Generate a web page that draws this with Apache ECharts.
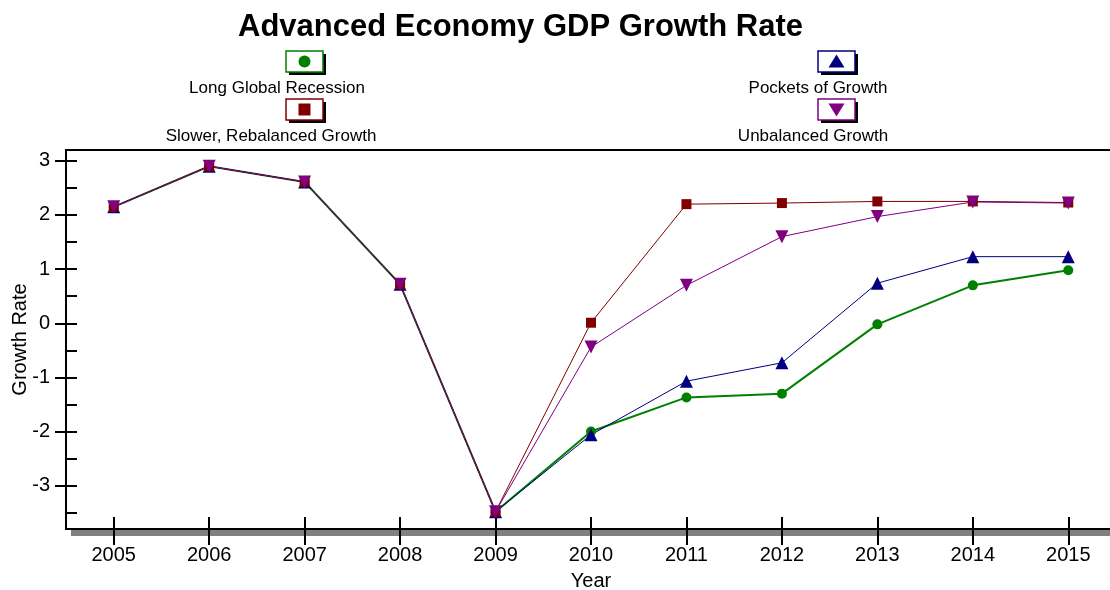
<!DOCTYPE html>
<html>
<head>
<meta charset="utf-8">
<title>Advanced Economy GDP Growth Rate</title>
<script src="https://cdn.jsdelivr.net/npm/echarts@6/dist/echarts.min.js"></script>
<style>
  html, body { margin: 0; padding: 0; background: #fff; }
  #chart { width: 1110px; height: 590px; }
</style>
</head>
<body>
<div id="chart"></div>
<script>
// data
var years = ["2005", "2006", "2007", "2008", "2009", "2010", "2011", "2012", "2013", "2014", "2015"];
var yTicks = [-3, -2, -1, 0, 1, 2, 3];
var yMinorTicks = [-3.5, -2.5, -1.5, -0.5, 0.5, 1.5, 2.5];
var seriesNames = ["Long Global Recession", "Slower, Rebalanced Growth", "Pockets of Growth", "Unbalanced Growth"];
var longGlobalRecession = [2.15, 2.9, 2.61, 0.72, -3.48, -2.0, -1.37, -1.30, -0.02, 0.70, 0.98];
var slowerRebalanced = [2.15, 2.9, 2.61, 0.72, -3.48, 0.01, 2.20, 2.22, 2.25, 2.25, 2.23];
var pocketsOfGrowth = [2.15, 2.9, 2.61, 0.72, -3.48, -2.06, -1.07, -0.73, 0.74, 1.23, 1.23];
var unbalancedGrowth = [2.15, 2.9, 2.61, 0.72, -3.48, -0.44, 0.70, 1.60, 1.97, 2.24, 2.22];

var FONT = "Liberation Sans, Arial, sans-serif";
var colors = ["#008000", "#800000", "#000080", "#800080"];
var markers = ["circle", "rect", "up", "down"];

var chart = echarts.init(document.getElementById("chart"));

// legend drawn by hand: box with marker, name underneath
var legendSlots = [
  { boxX: 286, boxY: 51, textX: 277, textY: 88 },
  { boxX: 286, boxY: 99, textX: 271, textY: 136 },
  { boxX: 818, boxY: 51, textX: 818, textY: 88 },
  { boxX: 818, boxY: 99, textX: 813, textY: 136 }
];

function legendMarker(kind, cx, cy, color) {
  if (kind === "circle") {
    return { type: "circle", shape: { cx: cx, cy: cy, r: 6 }, style: { fill: color } };
  }
  if (kind === "rect") {
    return { type: "rect", shape: { x: cx - 6, y: cy - 6, width: 12, height: 12 }, style: { fill: color } };
  }
  if (kind === "up") {
    return { type: "polygon", shape: { points: [[cx, cy - 7], [cx + 8, cy + 6], [cx - 8, cy + 6]] }, style: { fill: color } };
  }
  return { type: "polygon", shape: { points: [[cx - 8, cy - 6], [cx + 8, cy - 6], [cx, cy + 7]] }, style: { fill: color } };
}

var graphics = [];
legendSlots.forEach(function (s, i) {
  graphics.push({ type: "rect", shape: { x: s.boxX + 3, y: s.boxY + 3, width: 37, height: 21 }, style: { fill: "#000" } });
  graphics.push({ type: "rect", shape: { x: s.boxX, y: s.boxY, width: 37, height: 21 }, style: { fill: "#fff", stroke: colors[i], lineWidth: 1.5 } });
  graphics.push(legendMarker(markers[i], s.boxX + 18.5, s.boxY + 10.5, colors[i]));
  graphics.push({
    type: "text", x: s.textX, y: s.textY,
    style: { text: seriesNames[i], fill: "#000", font: "17px " + FONT, textAlign: "center", textVerticalAlign: "middle" }
  });
});
// grey shadow under the x axis
graphics.push({ type: "rect", z: -1, shape: { x: 71, y: 530, width: 1050, height: 6 }, style: { fill: "#808080" } });

function lineSeries(name, data, color, symbol, size, width, rotate) {
  return {
    name: name,
    type: "line",
    data: data,
    color: color,
    symbol: symbol,
    symbolSize: size,
    symbolRotate: rotate || 0,
    showSymbol: true,
    lineStyle: { width: width, color: color },
    itemStyle: { color: color },
    animation: false
  };
}

var option = {
  backgroundColor: "#fff",
  textStyle: { fontFamily: FONT },
  title: {
    text: "Advanced Economy GDP Growth Rate",
    left: 238,
    top: 12,
    padding: 0,
    textStyle: { fontSize: 31, fontWeight: "bold", color: "#000", fontFamily: FONT }
  },
  graphic: graphics,
  grid: {
    left: 66,
    top: 150,
    width: 1050,
    height: 379,
    containLabel: false,
    outerBoundsMode: "none",
    show: true,
    borderColor: "#000",
    borderWidth: 2,
    backgroundColor: "transparent"
  },
  xAxis: [
    {
      type: "category",
      data: years,
      boundaryGap: true,
      position: "bottom",
      name: "Year",
      nameLocation: "middle",
      nameGap: 42,
      nameMoveOverlap: false,
      nameTextStyle: { fontSize: 20, color: "#000" },
      axisLine: { show: true, onZero: false, lineStyle: { color: "#000", width: 2 } },
      axisTick: { show: true, alignWithLabel: true, inside: false, length: 16, lineStyle: { color: "#000", width: 2 } },
      axisLabel: { fontSize: 20, color: "#000", margin: 16 },
      splitLine: { show: false }
    },
    {
      type: "category",
      data: years,
      boundaryGap: true,
      position: "bottom",
      axisLine: { show: false, onZero: false },
      axisTick: { show: true, alignWithLabel: true, inside: true, length: 12, lineStyle: { color: "#000", width: 2 } },
      axisLabel: { show: false },
      splitLine: { show: false }
    }
  ],
  yAxis: [
    {
      type: "value",
      min: -3.8,
      max: 3.2,
      position: "left",
      name: "Growth Rate",
      nameLocation: "middle",
      nameGap: 36,
      nameMoveOverlap: false,
      nameTextStyle: { fontSize: 20, color: "#000" },
      axisLine: { show: true, onZero: false, lineStyle: { color: "#000", width: 2 } },
      axisTick: { show: true, inside: false, length: 11, customValues: yTicks, lineStyle: { color: "#000", width: 2 } },
      axisLabel: { fontSize: 20, color: "#000", margin: 16, customValues: yTicks },
      splitLine: { show: false }
    },
    {
      type: "value",
      min: -3.8,
      max: 3.2,
      position: "left",
      axisLine: { show: false, onZero: false },
      axisTick: { show: true, inside: true, length: 11, customValues: yTicks.concat(yMinorTicks), lineStyle: { color: "#000", width: 2 } },
      axisLabel: { show: false },
      splitLine: { show: false }
    }
  ],
  series: [
    lineSeries(seriesNames[0], longGlobalRecession, colors[0], "circle", 10, 2),
    lineSeries(seriesNames[2], pocketsOfGrowth, colors[2], "triangle", 13, 1),
    lineSeries(seriesNames[1], slowerRebalanced, colors[1], "rect", 10, 1),
    lineSeries(seriesNames[3], unbalancedGrowth, colors[3], "triangle", 13, 1, 180)
  ]
};

chart.setOption(option);
window.addEventListener("resize", function () {
  chart.resize();
});
</script>
</body>
</html>
